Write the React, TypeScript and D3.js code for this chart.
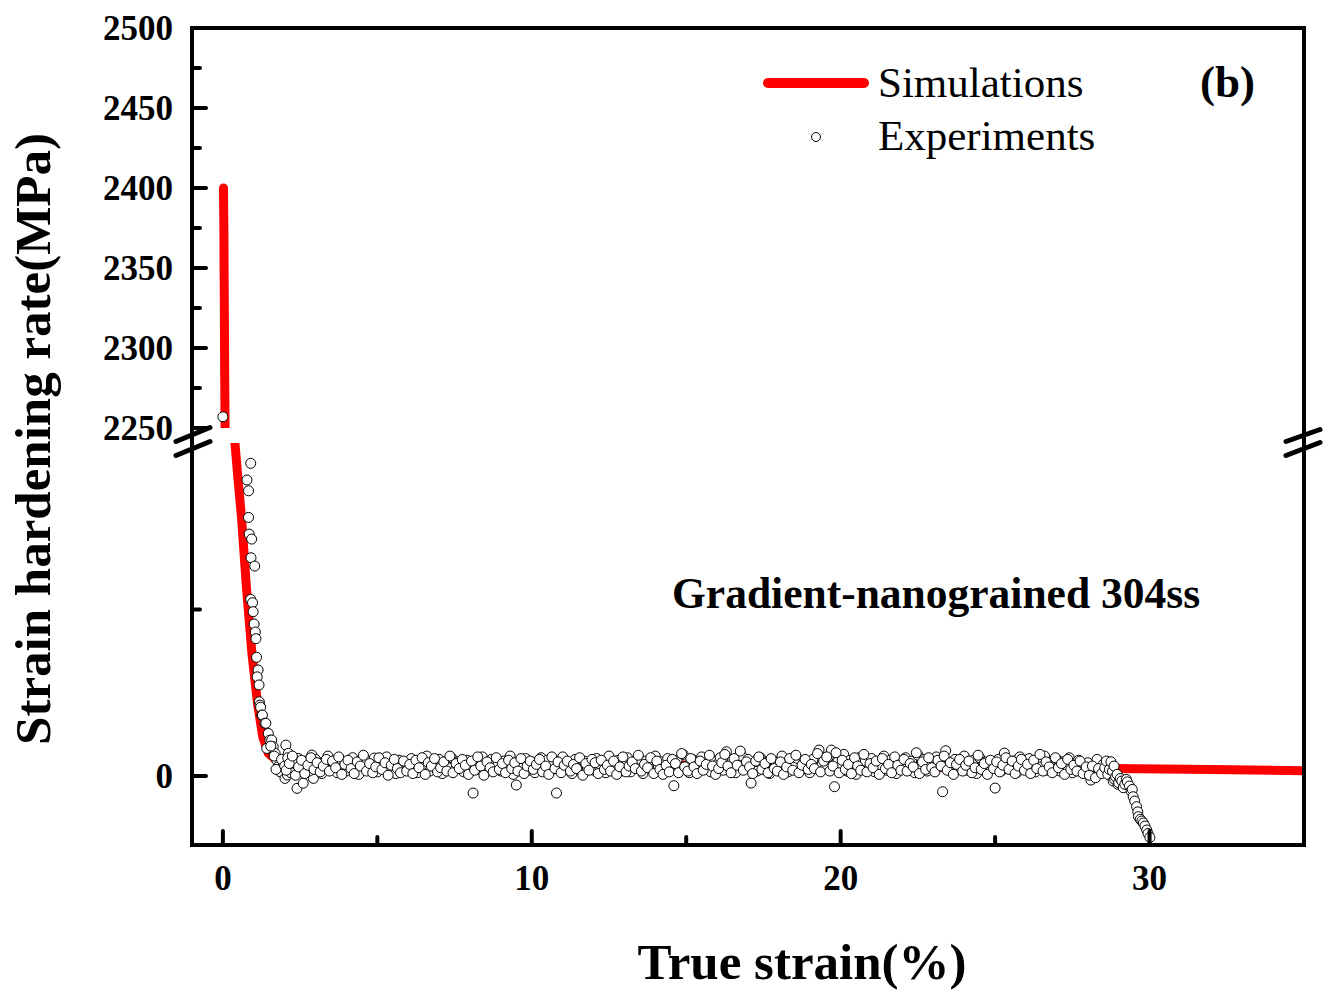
import React from "react";
import * as d3 from "d3";

// ---------- data ----------
const xTicksMajor = [0, 10, 20, 30];
const xTicksMinor = [5, 15, 25];
const yUpperMajor = [2250, 2300, 2350, 2400, 2450, 2500];
const yUpperMinor = [2275, 2325, 2375, 2425, 2475];
const yLowerMajor = [0];
const yLowerMinor = [1000];

// simulation curve (strain %, MPa)
const simX = [0.02, 0.03, 0.045, 0.06, 0.075, 0.2, 0.39, 0.5, 0.61, 0.76, 0.94, 1.12, 1.29, 1.47, 1.7, 2.2, 3, 5, 10, 15, 20, 25, 28.77, 32, 35];
const simY = [2400, 2380, 2330, 2280, 2240, 2120, 2000, 1760, 1538, 1137, 737, 437, 236, 136, 100, 90, 86, 82, 74, 66, 55, 52, 46, 40, 32];

// experiments: early steep part + first point
const expEarlyX = [0.0, 0.78, 0.83, 0.83, 0.85, 0.9, 0.93, 0.91, 1.03, 0.9, 0.96, 0.98, 1.01, 1.05, 1.07, 1.09, 1.14, 1.11, 1.17, 1.18, 1.2, 1.22, 1.26, 1.28, 1.36, 1.39, 1.42, 1.47, 1.52, 1.58, 1.63, 1.69, 1.74, 1.79, 1.85, 1.96, 2.01, 2.04, 2.09, 2.12, 2.17, 2.34, 2.44, 2.6, 2.88, 2.93, 1.55, 1.66, 1.72, 1.9];
const expEarlyY = [2257, 1778, 1713, 1553, 1453, 1878, 1423, 1311, 1261, 1061, 1041, 987, 913, 865, 825, 713, 637, 596, 547, 446, 426, 413, 366, 366, 317, 317, 166, 256, 216, 216, 176, 136, 96, 56, 26, 66, -14, 186, 6, 136, 86, 26, 106, 76, 126, -14, 180, 120, 40, 100];

// experiments: plateau band, sampled every 0.1 % from 2.0 %
const bandStart = 2.0;
const bandStep = 0.1;
const bandY = [
  60, 110, 20, 80, -74, 40, -43, 90, 30, 70,
  100, 45, 15, 85, 120, 40, 70, 20, 95, 55,
  30, 80, 110, 50, 10, 70, 100, 40, 60, 108,
  25, 90, 55, 115, 35, 75, 15, 95, 50, 85,
  40, 105, 65, 20, 90, 55, 120, 30, 75, 45,
  100, 15, 70, 50, 110, 35, 85, 60, 25, 95,
  55, -102, 80, 40, 115, 20, 70, 100, 45, 65,
  30, 90, 60, 120, 10, -54, 75, 50, 105, 35,
  85, 20, 65, 110, 45, 95, 30, 70, -102, 55,
  115, 40, 80, 15, 100, 60, 25, 90, 50, 75,
  35, 105, 55, 85, 20, 120, 45, 70, 95, 30,
  65, 110, 25, 80, 50, 100, 15, 90, 60, 40,
  120, 55, 85, 30, 105, 70, -58, 95, 45, 130,
  60, 20, 100, 75, 40, 115, 50, 85, 25, 90,
  70, 110, 35, 146, 55, 95, 20, 80, 120, 45,
  100, -42, 65, 30, 110, 50, 85, 15, 95, 60,
  40, 120, 75, 25, 90, 55, 105, 35, 80, 65,
  20, 100, 50, 156, 70, 45, 115, 156, -64, 85,
  60, 130, 30, 95, 75, 10, 110, 55, 90, 40,
  105, 25, 80, 60, 120, 35, 95, 50, 15, 85,
  70, 110, 40, 90, 20, 125, 65, 100, 30, 75,
  50, 115, 85, -94, 152, 60, 25, 100, 45, 80,
  120, 35, 70, 95, 15, 110, 55, 85, 40, 65,
  -72, 100, 30, 138, 75, 50, 90, 20, 115, 60,
  45, 105, 70, 25, 95, 55, 120, 35, 80, 65,
  100, 30, 85, 50, 110, 20, 75, 95, 40, 60,
  80, -24, 55, 100, 35, 70, 20,
];

// second interleaved pass of the band, from 2.05 %
const band2Start = 2.05;
const bandY2 = [
  35, 75, 120, 5, 55, 95, 15, 65, 110, 40,
  80, 25, 60, 100, 30, 90, 50, 115, 10, 70,
  95, 45, 15, 85, 60, 125, 30, 75, 20, 55,
  110, 40, 80, 5, 65, 100, 45, 20, 90, 30,
  70, 15, 95, 50, 110, 10, 80, 60, 105, 25,
  50, 85, 30, 120, 20, 75, 45, 100, 65, 10,
  90, 35, 115, 60, 5, 85, 50, 25, 110, 40,
  75, 20, 95, 45, 80, 30, 105, 15, 60, 90,
  40, 70, 100, 25, 60, 10, 115, 45, 85, 20,
  65, 90, 30, 70, 45, 110, 5, 75, 35, 100,
  80, 15, 95, 40, 65, 30, 90, 10, 55, 115,
  25, 60, 85, 45, 125, 30, 70, 50, 110, 15,
  90, 40, 10, 65, 25, 100, 75, 20, 135, 55,
  30, 105, 55, 15, 90, 35, 70, 125, 60, 10,
  45, 80, 130, 60, 20, 105, 65, 150, 35, 85,
  55, 15, 90, 115, 40, 75, 20, 105, 45, 30,
  85, 10, 55, 105, 35, 125, 20, 65, 100, 40,
  70, 45, 135, 25, 90, 115, 30, 60, 140, 20,
  95, 40, 70, 15, 110, 60, 35, 130, 25, 75,
  50, 90, 10, 105, 45, 70, 20, 115, 65, 35,
  100, 30, 75, 55, 140, 15, 85, 40, 110, 50,
  25, 95, 60, 120, 35, 80, 10, 70, 100, 30,
  65, 90, 20, 50, 125, 40, 75, 10, 95, 45,
  85, 25, 65, 110, 40, 90, 15, 60, 100, 35,
  70, 15, 95, 45, 130, 30, 85, 55, 20, 110,
  50, 75, 10, 100, 40, 65, 30, 90, 15, 55,
  5, 60, -10, 45, 15, 50,
];

// experiments: final drop
const expDropX = [28.6, 28.65, 28.7, 28.75, 28.8, 28.82, 28.85, 28.87, 28.9, 28.95, 28.98, 29.0, 29.05, 29.1, 29.15, 29.2, 29.25, 29.28, 29.35, 29.4, 29.44, 29.47, 29.52, 29.58, 29.62, 29.64, 29.7, 29.75, 29.8, 29.85, 29.91, 29.95, 30.01];
const expDropY = [90, 10, 40, 86, 30, -30, 60, -20, -4, 10, -50, -40, -15, -30, -70, -50, -20, -35, -60, -90, -80, -124, -150, -184, -215, -244, -260, -270, -282, -300, -324, -345, -368];

// ---------- layout ----------
const W = 1330, H = 993;
const L = 192, R = 1304, T = 28, B = 845;
const upperBottom = 428, lowerTop = 443;

const xScale = d3.scaleLinear().domain([-1, 35]).range([L, R]);
const yUp = d3.scaleLinear().domain([2250, 2500]).range([upperBottom, T]);
const yLo = d3.scaleLinear().domain([-414, 2000]).range([B, lowerTop]);

const serif = "'Liberation Serif', 'Times New Roman', Times, serif";

export default function App() {
  const simPts: [number, number][] = simX.map((x, i) => [x, simY[i]]);
  const lineUp = d3.line<[number, number]>().x((d) => xScale(d[0])).y((d) => yUp(d[1]));
  const lineLo = d3.line<[number, number]>().x((d) => xScale(d[0])).y((d) => yLo(d[1]));

  const exp: [number, number][] = [
    ...expEarlyX.map((x, i) => [x, expEarlyY[i]] as [number, number]),
    ...bandY.map((y, i) => [bandStart + i * bandStep, y] as [number, number]),
    ...bandY2.map((y, i) => [band2Start + i * bandStep, y] as [number, number]),
    ...expDropX.map((x, i) => [x, expDropY[i]] as [number, number]),
  ];

  const py = (v: number) => (v >= 2250 ? yUp(v) : yLo(v));

  const majorLen = 14, minorLen = 8;
  const brk = (upperBottom + lowerTop) / 2;

  return (
    <svg width={W} height={H} style={{ position: "absolute", left: 0, top: 0, background: "#fff" }}>
      <defs>
        <clipPath id="clipUp">
          <rect x={L} y={T} width={R - L} height={upperBottom - T} />
        </clipPath>
        <clipPath id="clipLo">
          <rect x={L} y={lowerTop} width={R - L} height={B - lowerTop} />
        </clipPath>
      </defs>
      <rect x={0} y={0} width={W} height={H} fill="#fff" />

      {/* simulation */}
      <g clipPath="url(#clipUp)">
        <path d={lineUp(simPts) || ""} fill="none" stroke="#ff0000" strokeWidth={9} strokeLinecap="round" strokeLinejoin="round" />
      </g>
      <g clipPath="url(#clipLo)">
        <path d={lineLo(simPts) || ""} fill="none" stroke="#ff0000" strokeWidth={9} strokeLinecap="round" strokeLinejoin="round" />
      </g>

      {/* experiments */}
      <g>
        {exp.map((d, i) => (
          <circle key={i} cx={xScale(d[0])} cy={py(d[1])} r={5} fill="#fff" stroke="#000" strokeWidth={1} />
        ))}
      </g>

      {/* frame */}
      <g stroke="#000" strokeWidth={4} fill="none" strokeLinecap="square">
        <line x1={L} y1={T} x2={R} y2={T} />
        <line x1={L} y1={B} x2={R} y2={B} />
        <line x1={L} y1={T} x2={L} y2={B} />
        <line x1={R} y1={T} x2={R} y2={B} />
      </g>

      {/* break marks */}
      <g stroke="#000" strokeWidth={5} strokeLinecap="round">
        <line x1={L - 16} y1={brk + 6} x2={L + 18} y2={brk - 8} />
        <line x1={L - 16} y1={brk + 20} x2={L + 18} y2={brk + 6} />
        <line x1={R - 18} y1={brk + 6} x2={R + 16} y2={brk - 6} />
        <line x1={R - 18} y1={brk + 20} x2={R + 16} y2={brk + 7} />
      </g>

      {/* ticks */}
      <g stroke="#000" strokeWidth={4} strokeLinecap="round">
        {yUpperMajor.map((v) => (
          <line key={"um" + v} x1={L} x2={L + majorLen} y1={yUp(v)} y2={yUp(v)} />
        ))}
        {yUpperMinor.map((v) => (
          <line key={"un" + v} x1={L} x2={L + minorLen} y1={yUp(v)} y2={yUp(v)} />
        ))}
        {yLowerMajor.map((v) => (
          <line key={"lm" + v} x1={L} x2={L + majorLen} y1={yLo(v)} y2={yLo(v)} />
        ))}
        {yLowerMinor.map((v) => (
          <line key={"ln" + v} x1={L} x2={L + minorLen} y1={yLo(v)} y2={yLo(v)} />
        ))}
        {xTicksMajor.map((v) => (
          <line key={"xm" + v} x1={xScale(v)} x2={xScale(v)} y1={B} y2={B - majorLen} />
        ))}
        {xTicksMinor.map((v) => (
          <line key={"xn" + v} x1={xScale(v)} x2={xScale(v)} y1={B} y2={B - minorLen} />
        ))}
      </g>

      {/* tick labels */}
      <g fontFamily={serif} fontWeight="bold" fontSize={35} fill="#000">
        {yUpperMajor.map((v) => (
          <text key={"tu" + v} x={173} y={yUp(v)} textAnchor="end" dominantBaseline="central">{v}</text>
        ))}
        {yLowerMajor.map((v) => (
          <text key={"tl" + v} x={173} y={yLo(v)} textAnchor="end" dominantBaseline="central">{v}</text>
        ))}
        {xTicksMajor.map((v) => (
          <text key={"tx" + v} x={xScale(v)} y={890} textAnchor="middle">{v}</text>
        ))}
      </g>

      {/* axis titles */}
      <text x={802} y={979} textAnchor="middle" fontFamily={serif} fontWeight="bold" fontSize={51}>True strain(%)</text>
      <text transform="translate(50,439) rotate(-90)" textAnchor="middle" fontFamily={serif} fontWeight="bold" fontSize={51}>Strain hardening rate(MPa)</text>

      {/* legend */}
      <line x1={768} y1={83} x2={864} y2={83} stroke="#ff0000" strokeWidth={10} strokeLinecap="round" />
      <text x={878} y={97} fontFamily={serif} fontSize={43}>Simulations</text>
      <circle cx={816} cy={137} r={4.5} fill="#fff" stroke="#000" strokeWidth={1} />
      <text x={878} y={150} fontFamily={serif} fontSize={43}>Experiments</text>

      <text x={1200} y={97} fontFamily={serif} fontWeight="bold" fontSize={45}>(b)</text>
      <text x={672} y={608} fontFamily={serif} fontWeight="bold" fontSize={43.5}>Gradient-nanograined 304ss</text>
    </svg>
  );
}
